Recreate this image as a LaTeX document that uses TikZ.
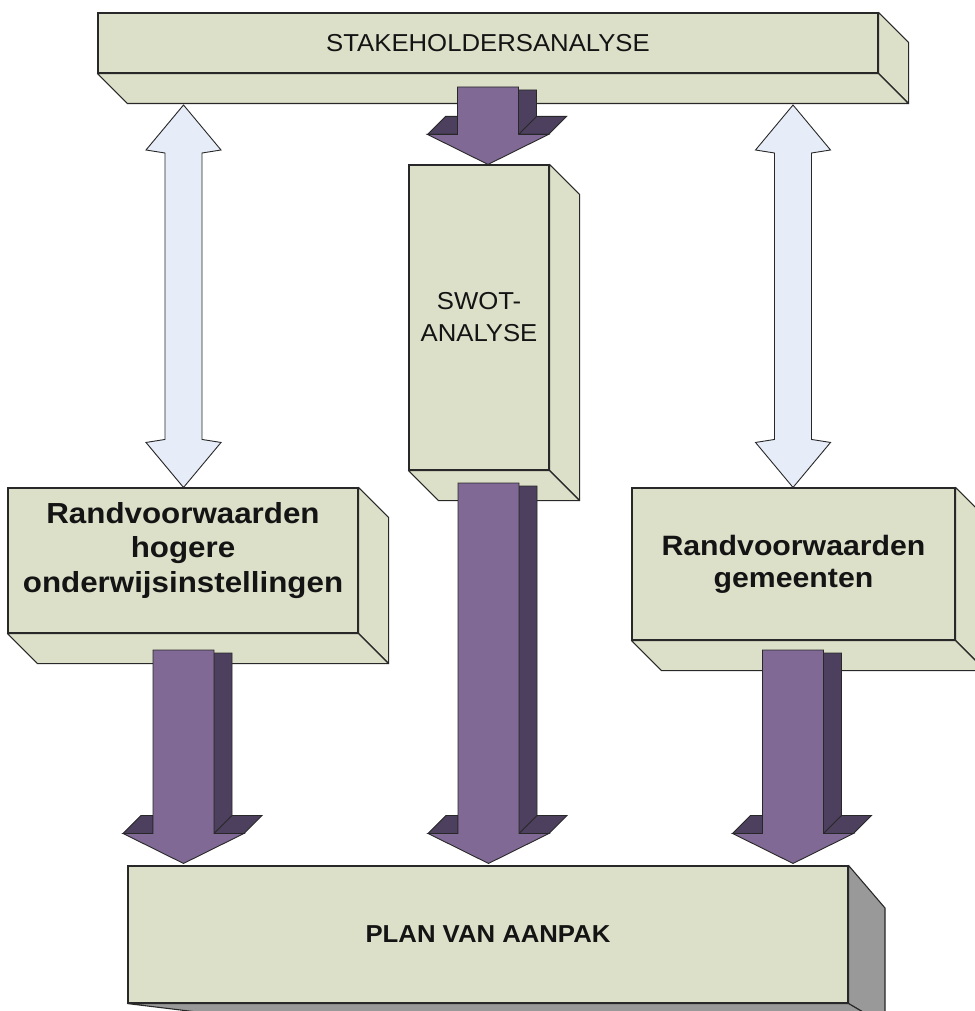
\documentclass[tikz,border=0pt]{standalone}
\usepackage{fontspec}
\setmainfont{Liberation Sans}[FakeStretch=1.05]
\newfontfamily\widesans{Liberation Sans}[FakeStretch=1.08]
\usetikzlibrary{calc}

\definecolor{khaki}{RGB}{221,224,201}
\definecolor{plum}{RGB}{128,106,149}
\definecolor{plumdark}{RGB}{76,64,94}
\definecolor{icy}{RGB}{230,237,248}
\definecolor{slab}{RGB}{153,153,153}
\definecolor{edge}{RGB}{40,40,40}
\definecolor{ink}{RGB}{20,20,20}

\pgfdeclarelayer{paper}
\pgfdeclarelayer{depth}
\pgfsetlayers{paper,depth,main}

% side and bottom faces of an extruded block, offset down-right
\newcommand\prism[1]{%
  \draw[face] (#1.north east) -- ++(30,30) -- ($(#1.south east)+(30,30)$) -- (#1.south east) -- cycle;
  \draw[face] (#1.south west) -- ($(#1.south west)+(30,30)$) -- ($(#1.south east)+(30,30)$) -- (#1.south east) -- cycle;}

% solid 3D block arrow: #1 = top of shaft (centre), #2 = tip
\newcommand\heavyarrow[2]{%
  \path[draw=edge, fill=plumdark, line width=0.9pt, line join=miter]
    let \p1=(#1), \p2=(#2) in
    (\x1+30.5pt,\y1-3pt) -- (\x1+48.5pt,\y1-3pt) -- (\x1+48.5pt,\y2+48pt)
      -- (\x1+78.5pt,\y2+48pt) -- (\x1+60.5pt,\y2+30pt) -- (\x1+30.5pt,\y2+30pt) -- cycle
    (\x1+30.5pt,\y2+30pt) -- (\x1+48.5pt,\y2+48pt)
    (\x1-60.5pt,\y2+30pt) -- (\x1-42.5pt,\y2+48pt) -- (\x1-30.5pt,\y2+48pt)
      -- (\x1-30.5pt,\y2+30pt) -- cycle;
  \path[draw=edge, fill=plum, line width=0.9pt, line join=miter]
    let \p1=(#1), \p2=(#2) in
    (\x1-30.5pt,\y1) -- (\x1+30.5pt,\y1) -- (\x1+30.5pt,\y2+30pt)
      -- (\x1+60.5pt,\y2+30pt) -- (\x2,\y2) -- (\x1-60.5pt,\y2+30pt)
      -- (\x1-30.5pt,\y2+30pt) -- cycle;}

% flat double-headed arrow: #1 = upper tip, #2 = lower tip
\newcommand\twowayarrow[2]{%
  \path[draw=edge, fill=icy, line width=0.9pt, line join=miter]
    let \p1=(#1), \p2=(#2) in
    (\x1,\y1) -- (\x1+37.5pt,\y1-45pt) -- (\x1+18.5pt,\y1-48pt) -- (\x1+18.5pt,\y2+48pt)
      -- (\x1+37.5pt,\y2+45pt) -- (\x2,\y2) -- (\x1-37.5pt,\y2+45pt) -- (\x1-18.5pt,\y2+48pt)
      -- (\x1-18.5pt,\y1-48pt) -- (\x1-37.5pt,\y1-45pt) -- cycle;}

\begin{document}
\begin{tikzpicture}[x=1pt,y=-1pt,
  block/.style={draw=edge, fill=khaki, line width=1.1pt, inner sep=0pt, text=ink},
  face/.style={draw=edge, fill=khaki, line width=1.1pt, line join=round},
  greyface/.style={draw=edge, fill=slab, line width=1.1pt, line join=round},
  plainlabel/.style={font=\fontsize{24.5}{32}\selectfont, text=ink, align=center},
  boldlabel/.style={font=\widesans\bfseries\fontsize{#1}{34.5}\selectfont, text=ink, align=center}]

\useasboundingbox (0,0) rectangle (974,1011);
\begin{pgfonlayer}{paper}
  \fill[white] (0,0) rectangle (974,1011);
\end{pgfonlayer}

% front faces of the blocks
\node[block, plainlabel, minimum width=780, minimum height=60] (stake) at (488,43) {STAKEHOLDERSANALYSE};
\node[block, plainlabel, minimum width=140, minimum height=305] (swot) at (479,317.5) {SWOT-\\ANALYSE};
\node[block, minimum width=350, minimum height=145] (lbox) at (183,560.5) {};
\node[block, minimum width=323, minimum height=152] (rbox) at (793.5,564) {};
\node[block, minimum width=720, minimum height=137, inner sep=0pt, text=ink,
      font=\bfseries\fontsize{24.5}{30}\selectfont] (plan) at (488,934.5) {PLAN VAN AANPAK};

\node[boldlabel=29] (ltext) at ($(lbox.center)+(0,-10)$) {Randvoorwaarden\\hogere\\onderwijsinstellingen};
\node[boldlabel=28, font=\widesans\bfseries\fontsize{28}{32}\selectfont] (rtext) at (rbox.center) {Randvoorwaarden\\gemeenten};

% depth faces behind the fronts
\begin{pgfonlayer}{depth}
  \prism{stake}
  \prism{swot}
  \prism{lbox}
  \prism{rbox}
  \draw[greyface] (plan.north east) -- (885,908) -- (885,1025) -- (plan.south east) -- cycle;
  \draw[greyface] (plan.south west) -- (plan.south east) -- (885,1025) -- (230,1016) -- cycle;
\end{pgfonlayer}

% connectors
\coordinate (d1a) at (183.5,105);
\coordinate (d1b) at (d1a |- lbox.north);
\coordinate (d2a) at (793,105);
\coordinate (d2b) at (d2a |- rbox.north);
\twowayarrow{d1a}{d1b}
\twowayarrow{d2a}{d2b}

\coordinate (a1s) at (488,87);
\coordinate (a1t) at (a1s |- swot.north);
\coordinate (a2s) at (183.5,650);
\coordinate (a2t) at ($(a2s |- plan.north)+(0,-2)$);
\coordinate (a3s) at (488.5,483);
\coordinate (a3t) at ($(a3s |- plan.north)+(0,-2)$);
\coordinate (a4s) at (793,650);
\coordinate (a4t) at ($(a4s |- plan.north)+(0,-2)$);
\heavyarrow{a1s}{a1t}
\heavyarrow{a2s}{a2t}
\heavyarrow{a3s}{a3t}
\heavyarrow{a4s}{a4t}
\end{tikzpicture}
\end{document}
